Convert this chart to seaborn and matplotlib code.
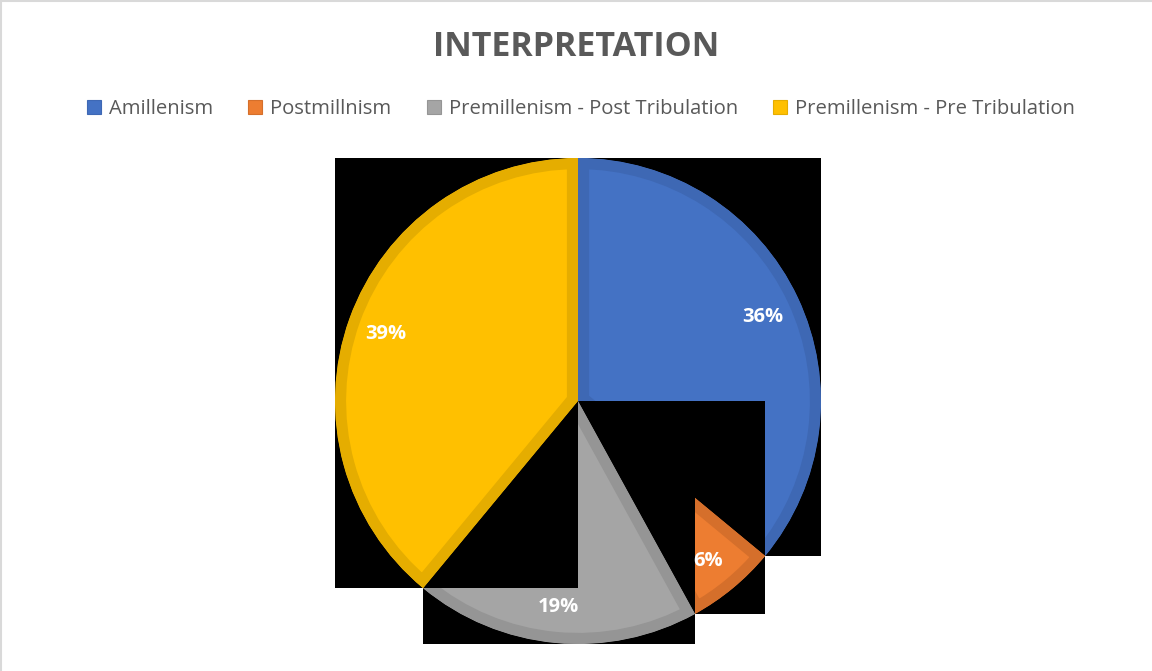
import matplotlib
matplotlib.use("Agg")
import matplotlib.pyplot as plt
import seaborn as sns
from matplotlib.patches import Rectangle, Patch
from matplotlib.lines import Line2D

# data
categories = ["Amillenism", "Postmillnism",
              "Premillenism - Post Tribulation", "Premillenism - Pre Tribulation"]
shares = [36, 6, 19, 39]
fill_colors = ["#4472C4", "#ED7D31", "#A5A5A5", "#FFC000"]
edge_colors = ["#3E68B4", "#D56F2B", "#959595", "#E5AD00"]
title = "INTERPRETATION"

sns.set_theme(style="white")
plt.rcParams["font.family"] = ["Open Sans", "DejaVu Sans"]
text_gray = "#595959"

W, H = 1152, 671
fig = plt.figure(figsize=(W / 100, H / 100), dpi=100)
fig.patch.set_facecolor("white")

# pie centre (578, 401) px, radius 243 px
cx, cy, r = 578, 401, 243
ax = fig.add_axes([(cx - r) / W, (H - cy - r) / H, 2 * r / W, 2 * r / H])

wedges, texts, autotexts = ax.pie(
    shares, colors=fill_colors, startangle=90, counterclock=False,
    autopct="%.0f%%", pctdistance=0.84,
    wedgeprops=dict(linewidth=16, antialiased=True),
    textprops=dict(color="white", fontsize=14.5, fontweight="bold"),
)
ax.set_xlim(-1, 1)
ax.set_ylim(-1, 1)
ax.axis("off")

# each slice sits on a black box of its own extent; later boxes cover earlier slices
for i, (w, ec) in enumerate(zip(wedges, edge_colors)):
    ext = w.get_path().get_extents()
    box = Rectangle((ext.x0, ext.y0), ext.width, ext.height,
                    facecolor="black", edgecolor="none", zorder=2 * i + 1)
    ax.add_patch(box)
    w.set_edgecolor(ec)
    w.set_zorder(2 * i + 2)
    # keep the stroke on the inside of the slice
    w.set_clip_on(True)
    w.set_clip_path(w.get_path(), ax.transData)

for t in autotexts:
    t.set_zorder(20)
    t.set_va("center_baseline")

fig.text(576 / W, 1 - 56 / H, title, ha="center", va="baseline",
         fontsize=24.5, fontweight="bold", color=text_gray)

handles = [Patch(facecolor=c, edgecolor=e, linewidth=0.8)
           for c, e in zip(fill_colors, edge_colors)]
leg = fig.legend(handles, categories, loc="center", ncol=4, frameon=False,
                 bbox_to_anchor=(581 / W, 1 - 109 / H),
                 fontsize=14.6, handlelength=0.68, handleheight=0.68,
                 handletextpad=0.4, columnspacing=1.75)
for t in leg.get_texts():
    t.set_color(text_gray)

# light frame at the top and left edges
fig.add_artist(Line2D([0, 1], [1 - 1 / H, 1 - 1 / H], color="#D9D9D9", lw=1.5,
                      transform=fig.transFigure))
fig.add_artist(Line2D([1 / W, 1 / W], [0, 1], color="#D9D9D9", lw=1.5,
                      transform=fig.transFigure))

fig.savefig("out.png", dpi=100, facecolor="white")
